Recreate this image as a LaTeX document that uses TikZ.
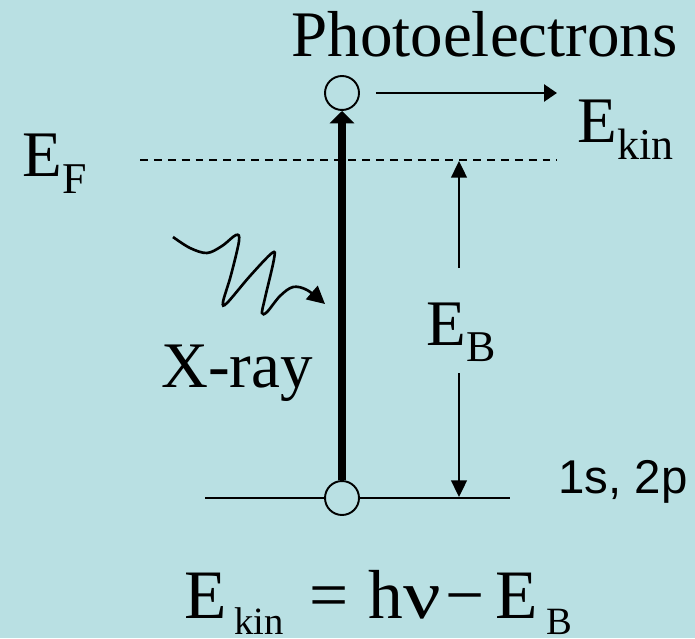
\documentclass[tikz,border=0pt]{standalone}
\usepackage{fontspec}
\setmainfont{Liberation Serif}
\newfontfamily\levelfont{Liberation Sans}
\usetikzlibrary{arrows.meta}
\definecolor{xpsbg}{HTML}{B9E0E3}
\newcommand{\idx}[2][25]{\raisebox{-9.5pt}{\fontsize{#1}{#1}\selectfont #2}}

\begin{document}
\begin{tikzpicture}[x=0.02cm, y=-0.02cm,
    lbl/.style={inner sep=0pt, anchor=base west, font=\fontsize{37}{40}\selectfont},
    orbit/.style={circle, draw, line width=1.1pt, fill=xpsbg, minimum size=0.68cm, inner sep=0pt},
    thin arrow/.style={line width=1.1pt, -{Triangle[length=9.5pt, width=9pt]}}]
  \fill[xpsbg] (0,0) rectangle (695,638);

  % core level and Fermi level
  \coordinate (lvlL) at (205,498);
  \coordinate (lvlR) at (510,498);
  \draw[line width=1.1pt] (lvlL) -- (lvlR);
  \coordinate (efL) at (140,160);
  \coordinate (efR) at (557,160);
  \draw[line width=0.85pt, dash pattern=on 4.5pt off 3.4pt] (efL) -- (efR);

  \node[orbit] (hole) at (342,498) {};
  \node[orbit] (elec) at (342,93) {};
  \draw[line width=4.5pt, -{Triangle[length=7pt, width=13.6pt]}] (hole) -- (elec);
  \coordinate (kinend) at (557,93);
  \draw[line width=1.7pt, -{Triangle[length=7.4pt, width=9.6pt]}] ([xshift=0.32cm]elec.east) -- (kinend);

  % labels
  \node[lbl] (photo) at (291,57) {Photoelectrons};
  \node[lbl] (ef) at (22,177) {E\idx{F}};
  \node[lbl] (ekin) at (577,143) {E\idx{kin}};
  \node[lbl] (eb) at (426,345) {E\idx{B}};
  \node[lbl] (xray) at (161,387) {X-ray};
  \node[lbl, font=\levelfont\fontsize{27}{30}\selectfont] (shell) at (558,493) {1s, 2p};
  \node[lbl, font=\fontsize{39.5}{42}\selectfont] (law) at (184,618)
    {E\hspace{4.5pt}\idx[22]{kin}\hspace{14.7pt}=\hspace{11pt}h\scalebox{1.2}[1]{ν}\hspace{3pt}−\hspace{6pt}E\hspace{5pt}\idx[22]{B}};

  % binding energy
  \coordinate (ebtop) at (459,161);
  \coordinate (ebbot) at (459,497);
  \coordinate (ebgapT) at (459,268);
  \coordinate (ebgapB) at (459,373);
  \draw[thin arrow] (ebgapT) -- (ebtop);
  \draw[thin arrow] (ebgapB) -- (ebbot);

  % incoming photon
  \draw[line width=1.5pt, -{Triangle[length=10pt, width=10pt]}] plot[smooth, tension=0.55] coordinates {
    (173,237) (190,248) (207,253) (222,246) (236,235) (239,241) (231,275) (223,302)
    (227,303) (250,276) (272,253) (274,259) (265,298) (262,313) (267,312) (280,296)
    (293,287) (307,290) (325,304)};
\end{tikzpicture}
\end{document}
